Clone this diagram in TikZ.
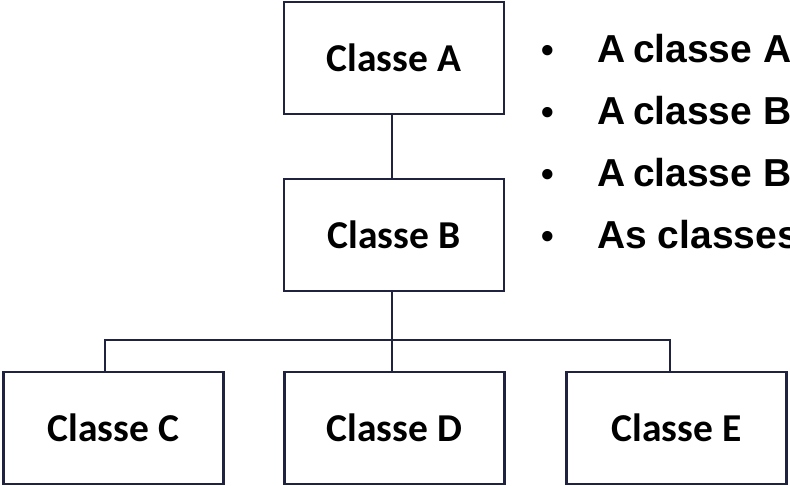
\documentclass[tikz,border=0pt]{standalone}
\usepackage{fontspec}
\setmainfont{Liberation Sans}
\newfontfamily\boxfont{Carlito}
\definecolor{linec}{HTML}{1F2340}
\begin{document}
\begin{tikzpicture}[x=1pt,y=-1pt,
  cbox/.style={draw=linec, line width=2.4pt, fill=white, minimum width=220pt, minimum height=112pt, inner sep=0pt,
    font=\boxfont\bfseries\fontsize{39.5}{42}\selectfont, text=black},
  conn/.style={draw=linec, line width=2.4pt},
  btxt/.style={anchor=base west, inner sep=0pt, font=\bfseries\fontsize{39}{42}\selectfont, text=black},
  bdot/.style={anchor=base, inner sep=0pt, font=\bfseries\fontsize{36}{40}\selectfont, text=black}]
\clip (0,0) rectangle (790,486);
\fill[white] (0,0) rectangle (790,486);
\coordinate (j) at (392,340);
\coordinate (jl) at (105,340);
\coordinate (jr) at (670,340);
\draw[conn] (j |- 0,114) -- (j |- 0,179);
\draw[conn] (j |- 0,291) -- (j |- 0,372);
\draw[conn] (jl |- 0,372) -- (jl) -- (jr) -- (jr |- 0,372);
\node[cbox] (A) at (394,58) {Classe A};
\node[cbox] (B) at (394,235) {Classe B};
\node[cbox] (C) at (113.5,428) {Classe C};
\node[cbox] (D) at (394.5,428) {Classe D};
\node[cbox] (E) at (676.5,428) {Classe E};
\node[bdot] (b1) at (548,63) {•};
\node[bdot] (b2) at (548,125) {•};
\node[bdot] (b3) at (548,187) {•};
\node[bdot] (b4) at (548,249) {•};
\node[btxt] (t1) at (597,63) {A\hspace{-0.08em} classe A};
\node[btxt] (t2) at (597,125) {A\hspace{-0.08em} classe B};
\node[btxt] (t3) at (597,187) {A\hspace{-0.08em} classe B};
\node[btxt] (t4) at (597,249) {As classes};
\end{tikzpicture}
\end{document}
